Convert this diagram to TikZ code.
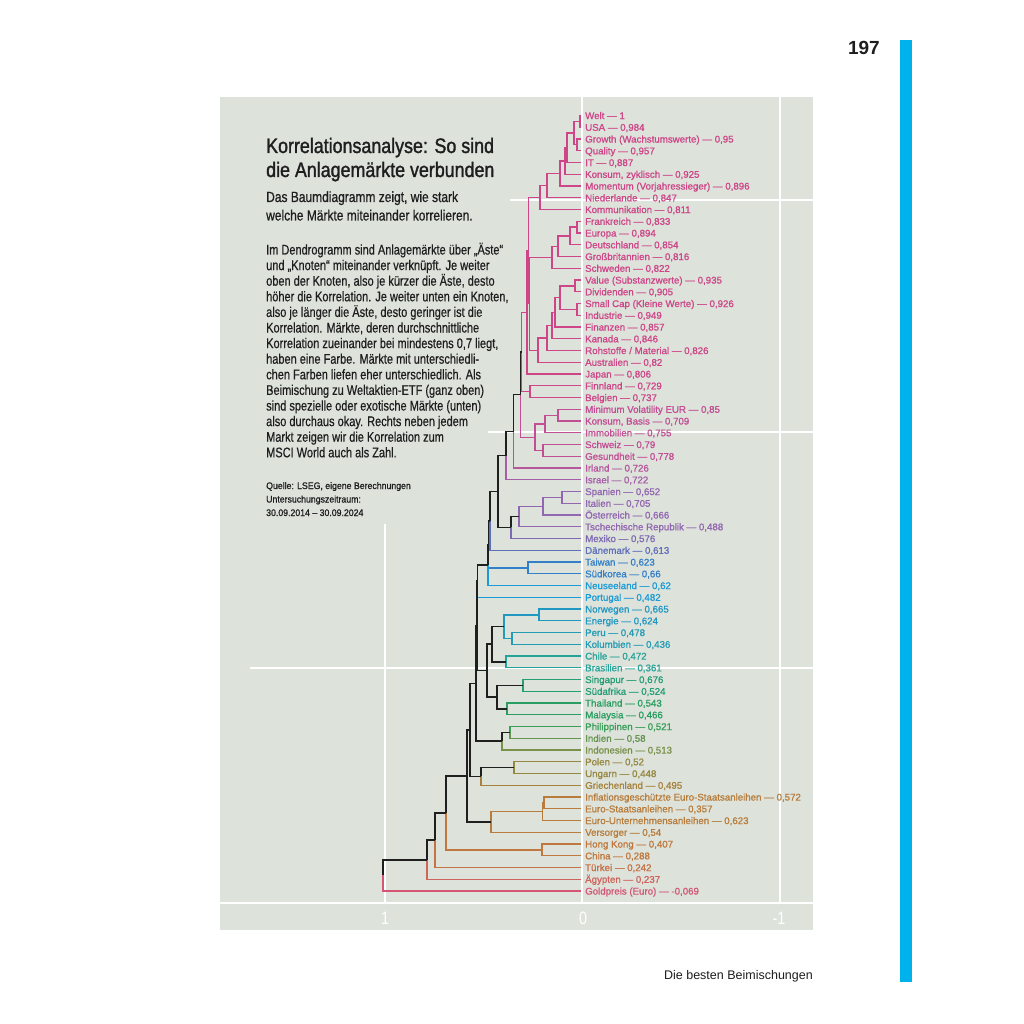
\documentclass[tikz,border=0pt]{standalone}
\usepackage{fontspec}
\setmainfont{Liberation Sans}
\newfontfamily\titlefont[FakeStretch=0.85,FakeBold=1.4]{Liberation Sans}
\newfontfamily\subfont[FakeStretch=0.81,FakeBold=0.7]{Liberation Sans}
\newfontfamily\bodyfont[FakeStretch=0.785,FakeBold=0.5]{Liberation Sans}
\newfontfamily\srcfont[FakeStretch=0.92,FakeBold=0.8]{Liberation Sans}
\newfontfamily\leaffont[FakeBold=1.1]{Liberation Sans}
\newfontfamily\axfont[FakeStretch=0.8]{Liberation Sans}
\usetikzlibrary{calc}
\definecolor{panel}{RGB}{221,226,219}
\definecolor{tx}{RGB}{30,30,30}
\definecolor{cyanbar}{RGB}{0,178,236}
\definecolor{pk}{RGB}{206,70,136}
\definecolor{pkb}{RGB}{194,78,148}
\definecolor{pkc}{RGB}{182,86,157}
\definecolor{pkd}{RGB}{166,94,168}
\definecolor{pu}{RGB}{146,102,176}
\definecolor{pub}{RGB}{126,106,178}
\definecolor{dn}{RGB}{95,112,186}
\definecolor{bl}{RGB}{52,128,200}
\definecolor{lb}{RGB}{28,155,214}
\definecolor{tla}{RGB}{33,152,194}
\definecolor{tlb}{RGB}{36,156,180}
\definecolor{tg}{RGB}{38,163,152}
\definecolor{gra}{RGB}{38,158,118}
\definecolor{grb}{RGB}{42,158,98}
\definecolor{grc}{RGB}{58,158,88}
\definecolor{ola}{RGB}{100,150,80}
\definecolor{olb}{RGB}{122,145,75}
\definecolor{ob}{RGB}{150,135,65}
\definecolor{br}{RGB}{166,130,60}
\definecolor{ora}{RGB}{184,125,60}
\definecolor{orb}{RGB}{192,120,62}
\definecolor{orc}{RGB}{198,114,72}
\definecolor{sal}{RGB}{207,100,92}
\definecolor{rd}{RGB}{212,86,116}
\newcommand{\leaf}[3]{\node[leaf,text=#2] (L#1) at (581,{115.5+(#1-1)*11.75}) {#3};}
\newcommand{\mrg}[6]{%
  \coordinate (xr) at (#2,0);
  \coordinate (tmq) at ($(#3)!0.5!(#5)$);
  \coordinate (#1) at (tmq -| xr);
  \draw[#4] (#1) |- (#3);
  \draw[#6] (#1) |- (#5);}
\begin{document}
\begin{tikzpicture}[x=1pt,y=-1pt,
  cl/.style={line width=1.25pt, draw=#1},
  bk/.style={line width=1.55pt, draw=black!88},
  leaf/.style={anchor=west, inner xsep=4pt, inner ysep=0pt, text height=7.1pt, text depth=0pt, font=\leaffont\fontsize{9.7}{10}\selectfont},
  txt/.style={anchor=base west, inner sep=0pt, text=tx},
  gridln/.style={draw=white, line width=1.6pt}]
\useasboundingbox (0,0) rectangle (1024,1024);
\fill[white] (0,0) rectangle (1024,1024);
\fill[panel] (220,97) rectangle (813,930);
% grid
\draw[gridln] (385,524) -- (385,903);
\draw[gridln] (582,97) -- (582,903);
\draw[gridln] (780,97) -- (780,903);
\draw[gridln] (220,903) -- (813,903);
\draw[gridln] (510,200) -- (813,200);
\draw[gridln] (488,432) -- (813,432);
\draw[gridln] (250,668) -- (813,668);
\node[anchor=center, inner sep=0pt, text=white, font=\axfont\fontsize{18}{18}\selectfont] (ax1) at (385,918) {1};
\node[anchor=center, inner sep=0pt, text=white, font=\axfont\fontsize{18}{18}\selectfont] (ax0) at (583,918) {0};
\node[anchor=center, inner sep=0pt, text=white, font=\axfont\fontsize{18}{18}\selectfont] (axm) at (779,918) {-1};
% page furniture
\fill[cyanbar] (900,40) rectangle (912,982);
\node[anchor=base east, inner sep=0pt, text=tx, font=\bfseries\fontsize{19}{19}\selectfont] (pg) at (880,55) {197};
\node[anchor=base east, inner sep=0pt, text=tx, font=\fontsize{12.5}{13}\selectfont] (ft) at (813,979) {Die besten Beimischungen};
% title
\node[txt, font=\titlefont\fontsize{21}{24}\selectfont] (t1) at (266,153) {Korrelationsanalyse: So sind};
\node[txt, font=\titlefont\fontsize{21}{24}\selectfont] (t2) at (266,177) {die Anlagemärkte verbunden};
\node[txt, font=\subfont\fontsize{14.8}{17}\selectfont] (u1) at (266,202) {Das Baumdiagramm zeigt, wie stark};
\node[txt, font=\subfont\fontsize{14.8}{17}\selectfont] (u2) at (266,220.5) {welche Märkte miteinander korrelieren.};
% body
\foreach \i/\t in {1/{Im Dendrogramm sind Anlagemärkte über „Äste“},
  2/{und „Knoten“ miteinander verknüpft. Je weiter},
  3/{oben der Knoten, also je kürzer die Äste, desto},
  4/{höher die Korrelation. Je weiter unten ein Knoten,},
  5/{also je länger die Äste, desto geringer ist die},
  6/{Korrelation. Märkte, deren durchschnittliche},
  7/{Korrelation zueinander bei mindestens 0,7 liegt,},
  8/{haben eine Farbe. Märkte mit unterschiedli-},
  9/{chen Farben liefen eher unterschiedlich. Als},
  10/{Beimischung zu Weltaktien-ETF (ganz oben)},
  11/{sind spezielle oder exotische Märkte (unten)},
  12/{also durchaus okay. Rechts neben jedem},
  13/{Markt zeigen wir die Korrelation zum},
  14/{MSCI World auch als Zahl.}}
  {\node[txt, font=\bodyfont\fontsize{14}{15}\selectfont] (b\i) at (266,{254.5+(\i-1)*15.6}) {\t};}
\node[txt, font=\srcfont\fontsize{9.5}{10}\selectfont] (q1) at (266,489) {Quelle: LSEG, eigene Berechnungen};
\node[txt, font=\srcfont\fontsize{9.5}{10}\selectfont] (q2) at (266,502.5) {Untersuchungszeitraum:};
\node[txt, font=\srcfont\fontsize{9.5}{10}\selectfont] (q3) at (266,516) {30.09.2014 – 30.09.2024};
% leaves
\leaf{1}{pk}{Welt — 1}
\leaf{2}{pk}{USA — 0,984}
\leaf{3}{pk}{Growth (Wachstumswerte) — 0,95}
\leaf{4}{pk}{Quality — 0,957}
\leaf{5}{pk}{IT — 0,887}
\leaf{6}{pk}{Konsum, zyklisch — 0,925}
\leaf{7}{pk}{Momentum (Vorjahressieger) — 0,896}
\leaf{8}{pk}{Niederlande — 0,847}
\leaf{9}{pk}{Kommunikation — 0,811}
\leaf{10}{pk}{Frankreich — 0,833}
\leaf{11}{pk}{Europa — 0,894}
\leaf{12}{pk}{Deutschland — 0,854}
\leaf{13}{pk}{Großbritannien — 0,816}
\leaf{14}{pk}{Schweden — 0,822}
\leaf{15}{pk}{Value (Substanzwerte) — 0,935}
\leaf{16}{pk}{Dividenden — 0,905}
\leaf{17}{pk}{Small Cap (Kleine Werte) — 0,926}
\leaf{18}{pk}{Industrie — 0,949}
\leaf{19}{pk}{Finanzen — 0,857}
\leaf{20}{pk}{Kanada — 0,846}
\leaf{21}{pk}{Rohstoffe / Material — 0,826}
\leaf{22}{pk}{Australien — 0,82}
\leaf{23}{pk}{Japan — 0,806}
\leaf{24}{pk}{Finnland — 0,729}
\leaf{25}{pk}{Belgien — 0,737}
\leaf{26}{pkb}{Minimum Volatility EUR — 0,85}
\leaf{27}{pkb}{Konsum, Basis — 0,709}
\leaf{28}{pkb}{Immobilien — 0,755}
\leaf{29}{pkb}{Schweiz — 0,79}
\leaf{30}{pkb}{Gesundheit — 0,778}
\leaf{31}{pkc}{Irland — 0,726}
\leaf{32}{pkd}{Israel — 0,722}
\leaf{33}{pu}{Spanien — 0,652}
\leaf{34}{pu}{Italien — 0,705}
\leaf{35}{pu}{Österreich — 0,666}
\leaf{36}{pu}{Tschechische Republik — 0,488}
\leaf{37}{pub}{Mexiko — 0,576}
\leaf{38}{dn}{Dänemark — 0,613}
\leaf{39}{bl}{Taiwan — 0,623}
\leaf{40}{bl}{Südkorea — 0,66}
\leaf{41}{lb}{Neuseeland — 0,62}
\leaf{42}{lb}{Portugal — 0,482}
\leaf{43}{tla}{Norwegen — 0,665}
\leaf{44}{tla}{Energie — 0,624}
\leaf{45}{tlb}{Peru — 0,478}
\leaf{46}{tlb}{Kolumbien — 0,436}
\leaf{47}{tg}{Chile — 0,472}
\leaf{48}{tg}{Brasilien — 0,361}
\leaf{49}{gra}{Singapur — 0,676}
\leaf{50}{gra}{Südafrika — 0,524}
\leaf{51}{grb}{Thailand — 0,543}
\leaf{52}{grb}{Malaysia — 0,466}
\leaf{53}{grc}{Philippinen — 0,521}
\leaf{54}{ola}{Indien — 0,58}
\leaf{55}{olb}{Indonesien — 0,513}
\leaf{56}{ob}{Polen — 0,52}
\leaf{57}{ob}{Ungarn — 0,448}
\leaf{58}{br}{Griechenland — 0,495}
\leaf{59}{ora}{Inflationsgeschützte Euro-Staatsanleihen — 0,572}
\leaf{60}{ora}{Euro-Staatsanleihen — 0,357}
\leaf{61}{ora}{Euro-Unternehmensanleihen — 0,623}
\leaf{62}{ora}{Versorger — 0,54}
\leaf{63}{orb}{Hong Kong — 0,407}
\leaf{64}{orb}{China — 0,288}
\leaf{65}{orc}{Türkei — 0,242}
\leaf{66}{sal}{Ägypten — 0,237}
\leaf{67}{rd}{Goldpreis (Euro) — -0,069}
% tree
\mrg{n1}{580}{L1.west}{cl=pk}{L2.west}{cl=pk}
\mrg{n2}{577}{L3.west}{cl=pk}{L4.west}{cl=pk}
\mrg{n3}{574}{n1}{cl=pk}{n2}{cl=pk}
\mrg{n4}{567}{n3}{cl=pk}{L5.west}{cl=pk}
\mrg{n5}{565}{n4}{cl=pk}{L6.west}{cl=pk}
\mrg{n6}{560}{n5}{cl=pk}{L7.west}{cl=pk}
\mrg{n7}{547}{n6}{cl=pk}{L8.west}{cl=pk}
\mrg{n8}{540}{n7}{cl=pk}{L9.west}{cl=pk}
\mrg{e1}{577}{L10.west}{cl=pk}{L11.west}{cl=pk}
\mrg{e2}{570}{e1}{cl=pk}{L12.west}{cl=pk}
\mrg{e3}{558}{e2}{cl=pk}{L13.west}{cl=pk}
\mrg{e4}{552}{e3}{cl=pk}{L14.west}{cl=pk}
\mrg{v1}{575}{L15.west}{cl=pk}{L16.west}{cl=pk}
\mrg{v2}{577}{L17.west}{cl=pk}{L18.west}{cl=pk}
\mrg{v3}{560}{v1}{cl=pk}{v2}{cl=pk}
\mrg{v4}{555}{v3}{cl=pk}{L19.west}{cl=pk}
\mrg{v5}{552}{v4}{cl=pk}{L20.west}{cl=pk}
\mrg{v6}{547}{v5}{cl=pk}{L21.west}{cl=pk}
\mrg{v7}{538}{v6}{cl=pk}{L22.west}{cl=pk}
\mrg{p1}{529.5}{e4}{cl=pk}{v7}{cl=pk}
\mrg{p0}{528.5}{n8}{cl=pk}{p1}{cl=pk}
\mrg{p2}{527}{p0}{cl=pk}{L23.west}{cl=pk}
\mrg{fb}{530}{L24.west}{cl=pk}{L25.west}{cl=pk}
\mrg{S}{521.5}{p2}{cl=pk}{fb}{cl=pk}
\mrg{m1}{558}{L26.west}{cl=pkb}{L27.west}{cl=pkb}
\mrg{m2}{545}{m1}{cl=pkb}{L28.west}{cl=pkb}
\mrg{m3}{543}{L29.west}{cl=pkb}{L30.west}{cl=pkb}
\mrg{m4}{535}{m2}{cl=pkb}{m3}{cl=pkb}
\mrg{pB}{520.5}{S}{bk}{m4}{cl=pkb}
\mrg{pA}{513.5}{pB}{bk}{L31.west}{cl=pkc}
\mrg{Q1}{506}{pA}{bk}{L32.west}{cl=pkd}
\mrg{s1}{562}{L33.west}{cl=pu}{L34.west}{cl=pu}
\mrg{s2}{543}{s1}{cl=pu}{L35.west}{cl=pu}
\mrg{s3}{519}{s2}{cl=pu}{L36.west}{cl=pu}
\mrg{s4}{511}{s3}{bk}{L37.west}{cl=pub}
\mrg{Q2}{498}{Q1}{bk}{s4}{bk}
\mrg{D1}{490}{Q2}{bk}{L38.west}{cl=dn}
\mrg{tw}{528}{L39.west}{cl=bl}{L40.west}{cl=bl}
\mrg{D2}{488.5}{D1}{bk}{tw}{cl=bl}
\mrg{D3}{488}{D2}{bk}{L41.west}{cl=lb}
\mrg{D4}{477.5}{D3}{bk}{L42.west}{cl=lb}
\mrg{ne}{539}{L43.west}{cl=tla}{L44.west}{cl=tla}
\mrg{pe}{512}{L45.west}{cl=tlb}{L46.west}{cl=tlb}
\mrg{np}{504}{ne}{cl=tla}{pe}{cl=tlb}
\mrg{cb}{506}{L47.west}{cl=tg}{L48.west}{cl=tg}
\mrg{T}{492}{np}{bk}{cb}{bk}
\mrg{sg}{523}{L49.west}{cl=gra}{L50.west}{cl=gra}
\mrg{thm}{507}{L51.west}{cl=grb}{L52.west}{cl=grb}
\mrg{G}{497}{sg}{bk}{thm}{bk}
\mrg{Y}{487}{T}{bk}{G}{bk}
\mrg{M1}{477}{D4}{bk}{Y}{bk}
\mrg{phi}{510}{L53.west}{cl=grc}{L54.west}{cl=ola}
\mrg{R10}{502}{phi}{bk}{L55.west}{cl=olb}
\mrg{M2}{476}{M1}{bk}{R10}{bk}
\mrg{plu}{514}{L56.west}{cl=ob}{L57.west}{cl=ob}
\mrg{R8}{481}{plu}{bk}{L58.west}{cl=br}
\mrg{R5}{470}{M2}{bk}{R8}{bk}
\mrg{bd1}{544}{L59.west}{cl=ora}{L60.west}{cl=ora}
\mrg{bd}{542.5}{bd1}{cl=ora}{L61.west}{cl=ora}
\mrg{R6}{491}{bd}{cl=ora}{L62.west}{cl=ora}
\mrg{R4}{467}{R5}{bk}{R6}{bk}
\mrg{hc}{542}{L63.west}{cl=orb}{L64.west}{cl=orb}
\mrg{R3}{446}{R4}{bk}{hc}{cl=orb}
\mrg{R2}{435}{R3}{bk}{L65.west}{cl=orc}
\mrg{R1}{427}{R2}{bk}{L66.west}{cl=sal}
\mrg{root}{383}{R1}{bk}{L67.west}{cl=rd}
\end{tikzpicture}
\end{document}
